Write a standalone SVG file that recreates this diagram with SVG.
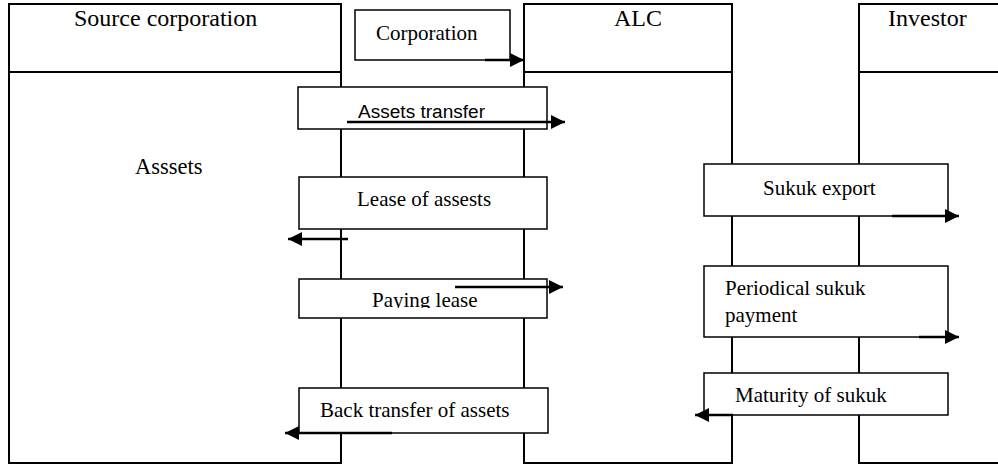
<svg xmlns="http://www.w3.org/2000/svg" width="998" height="467" viewBox="0 0 998 467">
<defs>
<style>
.lane{fill:#fff;stroke:#000;stroke-width:2}
.msg{fill:#fff;stroke:#000;stroke-width:1.5}
.arr{stroke:#000;stroke-width:2.5;fill:none;marker-end:url(#ah)}
text{fill:#000}
</style>
<marker id="ah" markerUnits="userSpaceOnUse" markerWidth="15" markerHeight="14" refX="14" refY="7" orient="auto">
<path d="M0,0 L14,7 L0,14 z" fill="#000"/>
</marker>
<clipPath id="payclip"><rect x="299" y="279" width="248" height="29"/></clipPath>
</defs>
<g font-family="'Liberation Serif', 'DejaVu Serif', serif" font-size="21">
<g id="source">
<rect class="lane" x="9" y="4" width="332" height="459"/>
<line x1="9" y1="72" x2="341" y2="72" stroke="#000" stroke-width="2"/>
<text x="74" y="26" font-size="24">Source corporation</text>
<text x="135" y="174" font-size="22.5">Asssets</text>
</g>
<g id="alc">
<rect class="lane" x="524" y="4" width="208" height="459"/>
<line x1="524" y1="72" x2="732" y2="72" stroke="#000" stroke-width="2"/>
<text x="614" y="26" font-size="24">ALC</text>
</g>
<g id="investor">
<rect class="lane" x="859" y="4" width="150" height="459"/>
<line x1="859" y1="72" x2="1009" y2="72" stroke="#000" stroke-width="2"/>
<text x="888" y="26" font-size="24">Investor</text>
</g>
<g id="corporation">
<rect class="msg" x="355" y="10" width="155" height="50"/>
<text x="376" y="40">Corporation</text>
</g>
<g id="assets-transfer">
<rect class="msg" x="298" y="87" width="249" height="42"/>
<text x="358" y="118" font-family="'Liberation Sans', Arial, sans-serif" font-size="18" textLength="127" lengthAdjust="spacingAndGlyphs">Assets transfer</text>
</g>
<g id="lease-of-assets">
<rect class="msg" x="299" y="177" width="248" height="52"/>
<text x="357" y="206">Lease of assests</text>
</g>
<g id="paying-lease">
<rect class="msg" x="299" y="279" width="248" height="39"/>
<text x="372" y="307" clip-path="url(#payclip)">Paying lease</text>
</g>
<g id="back-transfer">
<rect class="msg" x="299" y="388" width="249" height="45"/>
<text x="320" y="417">Back transfer of assets</text>
</g>
<g id="sukuk-export">
<rect class="msg" x="704" y="164" width="244" height="52"/>
<text x="763" y="195">Sukuk export</text>
</g>
<g id="periodical-payment">
<rect class="msg" x="704" y="266" width="244" height="71"/>
<text x="725" y="295">Periodical sukuk</text>
<text x="725" y="322">payment</text>
</g>
<g id="maturity">
<rect class="msg" x="704" y="373" width="244" height="42"/>
<text x="735" y="402">Maturity of sukuk</text>
</g>
</g>
<g id="connectors">
<line class="arr" x1="485" y1="60" x2="524" y2="60"/>
<line class="arr" x1="347" y1="122" x2="565" y2="122"/>
<line class="arr" x1="348" y1="239" x2="288" y2="239"/>
<line class="arr" x1="455" y1="287" x2="563" y2="287"/>
<line class="arr" x1="392" y1="433" x2="285" y2="433"/>
<line class="arr" x1="892" y1="216" x2="959" y2="216"/>
<line class="arr" x1="919" y1="337" x2="959" y2="337"/>
<line class="arr" x1="733" y1="415" x2="695" y2="415"/>
</g>
</svg>
